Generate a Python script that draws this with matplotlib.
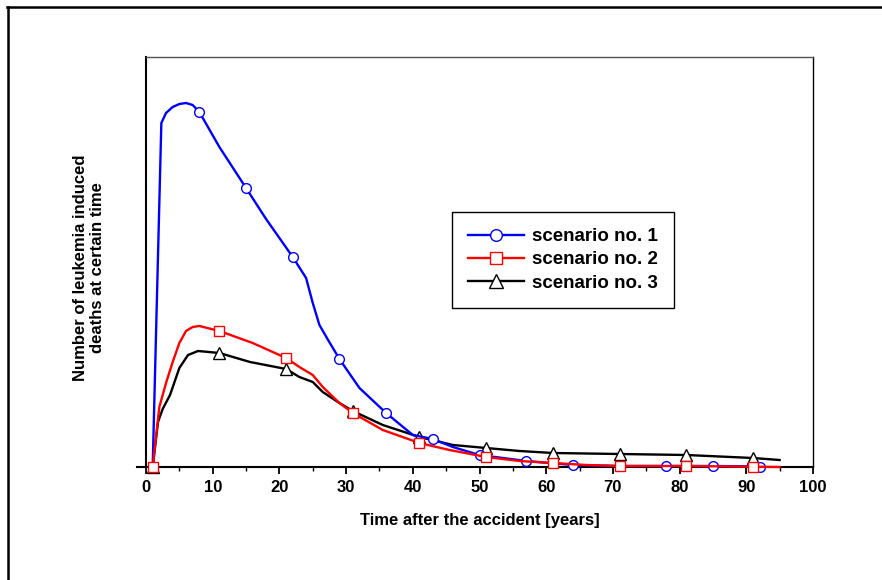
import matplotlib
matplotlib.use('Agg')
import matplotlib.pyplot as plt
from matplotlib.lines import Line2D
import numpy as np

plt.rcParams['font.family'] = ['Liberation Sans', 'DejaVu Sans']
plt.rcParams['font.weight'] = 'bold'

# scenario no. 1
t1 = [1, 2.3, 3, 4, 5, 6, 7, 8, 11, 15, 18, 22, 24, 25, 26, 27.3, 29, 32, 36, 40, 43, 46, 50, 57, 64, 71, 78, 85, 92]
v1 = [0, 344, 354, 360, 363, 364, 362, 355, 320, 279, 248, 210, 189, 164, 142, 127, 108, 79, 54, 32, 28, 20, 12, 6, 2, 1, 1, 1, 0.5]
mark1 = [1, 8, 15, 22, 29, 36, 43, 50, 57, 64, 71, 78, 85, 92]

# scenario no. 2
t2 = [1, 2, 3, 4, 5, 6, 7, 8, 11, 16, 21, 23, 25, 26.5, 29, 31, 35.5, 41, 45.5, 51, 56, 61, 66, 71, 81, 91, 95]
v2 = [0, 60, 84, 105, 124, 136, 140, 141, 136, 124, 109, 100, 92, 80, 64, 54, 37, 24, 17, 10, 6, 4, 2, 1, 1, 0.3, 0]

# scenario no. 3
t3 = [1, 1.8, 2.5, 3.6, 5, 6.3, 7.8, 11, 15.6, 21, 23, 25, 26.5, 29, 31, 35.5, 41, 46, 51, 56, 61, 71, 81, 91, 95]
v3 = [0, 45, 58, 72, 99, 112, 116, 114, 105, 98, 90, 85, 75, 64, 56, 42, 30, 22, 19, 16, 14, 13, 12, 9, 7]

mark23 = [1, 11, 21, 31, 41, 51, 61, 71, 81, 91]

fig = plt.figure(figsize=(8.82, 5.80), dpi=100)
ax = fig.add_axes([137/882, 1-467/580, (813-137)/882, (467-57)/580])

def idx(t, marks):
    return list(np.where(np.isin(t, marks))[0])

ms = 7
lw = 1.7
ax.plot(t3, v3, color='black', lw=lw, marker='^', ms=ms+1, mfc='white', mec='black', mew=1,
        markevery=idx(t3, mark23), clip_on=False, label='scenario no. 3', zorder=3)
ax.plot(t1, v1, color='blue', lw=lw, marker='o', ms=ms, mfc='white', mec='blue', mew=1,
        markevery=idx(t1, mark1), clip_on=False, label='scenario no. 1', zorder=4)
ax.plot(t2, v2, color='red', lw=lw, marker='s', ms=ms, mfc='white', mec='red', mew=1,
        markevery=idx(t2, mark23), clip_on=False, label='scenario no. 2', zorder=5)

ax.set_xlim(-1.35, 100)
ax.set_ylim(0, 410)
ax.spines['left'].set_position(('data', 0))
ax.spines['top'].set_bounds(0, 100)
ax.spines['left'].set_linewidth(1.5)
ax.spines['bottom'].set_linewidth(1.5)
ax.spines['top'].set_linewidth(1.0)
ax.spines['top'].set_color('#555555')
ax.spines['right'].set_linewidth(1.0)

ax.set_xticks(np.arange(0, 101, 10))
ax.set_xticks(np.arange(5, 100, 10), minor=True)
ax.tick_params(axis='x', which='major', direction='out', length=5, width=1.3, labelsize=12, pad=4)
ax.tick_params(axis='x', which='minor', direction='out', length=3, width=1.0)
ax.set_yticks([])
for lab in ax.get_xticklabels():
    lab.set_fontweight('bold')

fig.text(480/882, 1-520/580, 'Time after the accident [years]', ha='center', va='center',
         fontsize=12, fontweight='bold')
fig.text(89/882, 1-268/580, 'Number of leukemia induced\ndeaths at certain time', ha='center', va='center',
         rotation=90, fontsize=12, fontweight='bold', linespacing=1.1)

handles, labels = ax.get_legend_handles_labels()
order = [1, 2, 0]
leg = ax.legend([handles[i] for i in order], [labels[i] for i in order],
                loc='upper left', bbox_to_anchor=(452/882, 1-212/580), bbox_transform=fig.transFigure,
                fancybox=False, framealpha=1, edgecolor='black', fontsize=13.5, markerscale=1.2,
                handlelength=3.0, handletextpad=0.4, labelspacing=0.33, borderpad=0.85, borderaxespad=0)
leg.get_frame().set_linewidth(1.0)
for txt in leg.get_texts():
    txt.set_fontweight('bold')

# outer frame (top and left only)
fig.add_artist(Line2D([7/882, 1], [1-7/580, 1-7/580], color='black', lw=1.8, transform=fig.transFigure))
fig.add_artist(Line2D([8/882, 8/882], [0, 1-7/580], color='black', lw=1.8, transform=fig.transFigure))

fig.savefig('out.png', dpi=100)
